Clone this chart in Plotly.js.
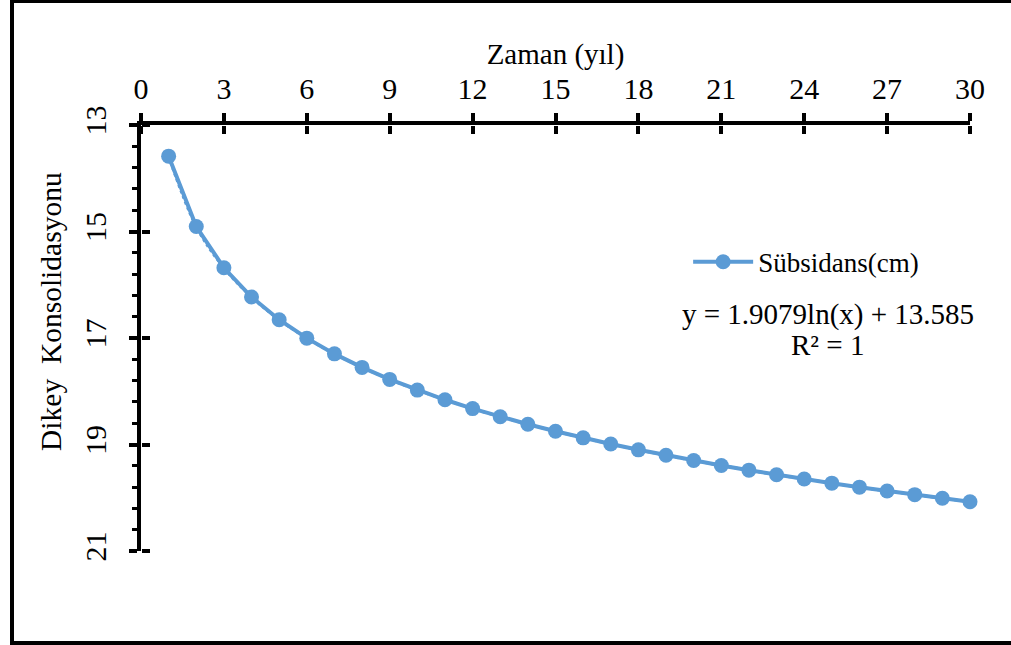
<!DOCTYPE html>
<html>
<head>
<meta charset="utf-8">
<script src="https://cdn.plot.ly/plotly-3.0.1.min.js"></script>
<style>
  html, body { margin: 0; padding: 0; background: #fff; }
  #wrap { position: relative; width: 1011px; height: 645px; overflow: hidden; }
  #chart { position: absolute; left: 0; top: 0; width: 1011px; height: 645px; }
  #frame { position: absolute; left: 10px; top: 0; width: 1010px; height: 638px;
           border-top: 3px solid #000; border-left: 4px solid #000; border-bottom: 4px solid #000;
           pointer-events: none; }
</style>
</head>
<body>
<div id="wrap">
  <div id="chart"></div>
  <div id="frame"></div>
</div>
<script>
// Time (years)
const years = [1,2,3,4,5,6,7,8,9,10,11,12,13,14,15,16,17,18,19,20,21,22,23,24,25,26,27,28,29,30];
// Subsidence (cm)
const subsidence = [13.585,14.907,15.681,16.230,16.656,17.003,17.298,17.552,17.777,17.978,
                    18.160,18.326,18.479,18.620,18.752,18.875,18.990,19.100,19.203,19.301,
                    19.394,19.482,19.567,19.648,19.726,19.801,19.873,19.942,20.010,20.074];
const xTicks = [0,3,6,9,12,15,18,21,24,27,30];
const yTicks = [13,15,17,19,21];
const seriesName = 'Sübsidans(cm)';
const xTitle = 'Zaman (yıl)';
const yTitle = 'Dikey\u00a0\u00a0Konsolidasyonu';
const equationLine1 = 'y = 1.9079ln(x) + 13.585';
const equationLine2 = 'R² = 1';

const blue = '#5B9BD5';
const FONT = 'Liberation Serif, Times New Roman, serif';

const traces = [
  { x: years, y: subsidence, type: 'scatter', mode: 'lines', name: 'trend',
    line: { color: blue, width: 3, dash: 'dot', shape: 'spline' },
    showlegend: false, hoverinfo: 'skip', cliponaxis: false },
  { x: years, y: subsidence, type: 'scatter', mode: 'lines+markers', name: seriesName,
    line: { color: blue, width: 4 },
    marker: { color: blue, size: 15 }, cliponaxis: false },
  // invisible copy on overlay axes, used to draw the inner half of the crossing tick marks
  { x: years, y: subsidence, xaxis: 'x2', yaxis: 'y2', type: 'scatter', mode: 'markers',
    marker: { color: 'rgba(0,0,0,0)', size: 1 }, showlegend: false, hoverinfo: 'skip' }
];

const layout = {
  width: 1011, height: 645,
  margin: { l: 141, r: 41, t: 125, b: 94 },
  paper_bgcolor: '#fff', plot_bgcolor: 'rgba(0,0,0,0)',
  font: { family: FONT, size: 28, color: '#000' },
  showlegend: true,
  legend: { x: 0.66, y: 0.678, xanchor: 'left', yanchor: 'middle', itemwidth: 60,
            font: { family: FONT, size: 27, color: '#000' }, bgcolor: 'rgba(0,0,0,0)' },
  xaxis: {
    type: 'linear', side: 'top', range: [0, 30], tickvals: xTicks, ticktext: xTicks.map(String),
    showline: true, linecolor: '#000', linewidth: 4, mirror: false,
    ticks: 'outside', ticklen: 8, tickwidth: 4, tickcolor: '#000',
    showgrid: false, zeroline: false,
    tickfont: { family: FONT, size: 30 }, ticklabelstandoff: 2,
    title: { text: xTitle, font: { family: FONT, size: 29 }, standoff: 0 }
  },
  yaxis: {
    type: 'linear', range: [21, 13], tickvals: yTicks, ticktext: yTicks.map(String),
    showline: true, linecolor: '#000', linewidth: 4,
    ticks: 'outside', ticklen: 8, tickwidth: 4, tickcolor: '#000',
    minor: { dtick: 0.4, tick0: 13, ticks: 'outside', ticklen: 5, tickwidth: 3, tickcolor: '#000', showgrid: false },
    showgrid: false, zeroline: false, tickangle: -90,
    tickfont: { family: FONT, size: 30 }, ticklabelstandoff: 11
  },
  xaxis2: { type: 'linear', overlaying: 'x', anchor: 'free', position: 1, side: 'bottom',
            range: [0, 30], tickvals: xTicks, showticklabels: false,
            ticks: 'outside', ticklen: 8, tickwidth: 4, tickcolor: '#000',
            showline: false, showgrid: false, zeroline: false, layer: 'above traces' },
  yaxis2: { type: 'linear', overlaying: 'y', anchor: 'free', position: 0, side: 'right',
            range: [21, 13], tickvals: yTicks, showticklabels: false,
            ticks: 'outside', ticklen: 8, tickwidth: 4, tickcolor: '#000',
            showline: false, showgrid: false, zeroline: false, layer: 'above traces' },
  annotations: [
    { xref: 'paper', yref: 'paper', x: -0.1086, y: 0.5634, xanchor: 'center', yanchor: 'middle',
      text: yTitle, textangle: -90, showarrow: false,
      font: { family: FONT, size: 29.5, color: '#000' } },
    { xref: 'paper', yref: 'paper', x: 0.8287, y: 0.5540, xanchor: 'center', yanchor: 'middle',
      text: equationLine1, showarrow: false,
      font: { family: FONT, size: 29, color: '#000' } },
    { xref: 'paper', yref: 'paper', x: 0.8287, y: 0.4840, xanchor: 'center', yanchor: 'middle',
      text: equationLine2, showarrow: false,
      font: { family: FONT, size: 29, color: '#000' } }
  ]
};

Plotly.newPlot('chart', traces, layout, { displayModeBar: false, staticPlot: true });
</script>
</body>
</html>
